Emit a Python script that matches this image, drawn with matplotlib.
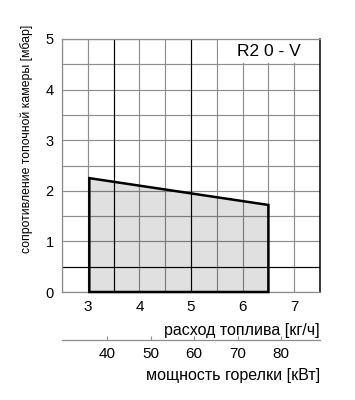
import matplotlib.pyplot as plt
from matplotlib.patches import Rectangle
from matplotlib.ticker import MultipleLocator

plt.rcParams['font.family'] = ['Liberation Sans', 'DejaVu Sans']

# working range of burner R20-V
fuel_flow = [3.03, 3.03, 6.5, 6.5]          # kg/h
chamber_pressure = [0.0, 2.25, 1.72, 0.0]   # mbar

fuel_ticks = [3, 4, 5, 6, 7]
pressure_ticks = [0, 1, 2, 3, 4, 5]
power_ticks = [40, 50, 60, 70, 80]
KW_PER_KG = 11.86

GRID = '#8e8e8e'

fig = plt.figure(figsize=(3.55, 4.0), dpi=100)
ax = fig.add_axes([0.1746, 0.27, 0.7268, 0.6325])

ax.set_xlim(2.5, 7.5)
ax.set_ylim(0, 5)
ax.set_xticks(fuel_ticks)
ax.set_yticks(pressure_ticks)
ax.xaxis.set_minor_locator(MultipleLocator(0.5))
ax.yaxis.set_minor_locator(MultipleLocator(0.5))
ax.set_axisbelow(True)
ax.grid(which='both', color=GRID, linewidth=0.85)
ax.tick_params(which='both', length=0, colors='black')
ax.tick_params(axis='x', pad=6, labelsize=11)
ax.tick_params(axis='y', pad=6, labelsize=10.5)

# darker reference lines
for xv in [3.5, 5.0]:
    ax.axvline(xv, color='black', linewidth=0.8, zorder=0.6)
ax.axhline(0.5, color='black', linewidth=0.8, zorder=0.6)

for side in ['top', 'left', 'bottom']:
    ax.spines[side].set_color(GRID)
    ax.spines[side].set_linewidth(0.9)
ax.spines['right'].set_color('black')
ax.spines['right'].set_linewidth(1.1)

# working field
ax.fill(fuel_flow, chamber_pressure, facecolor='black', alpha=0.12,
        edgecolor='none', zorder=1)
ax.fill(fuel_flow, chamber_pressure, facecolor='none', edgecolor='black',
        linewidth=1.8, zorder=3, clip_on=False)

# model label box
ax.add_patch(Rectangle((5.52, 4.52), 1.98, 0.48, facecolor='white',
                       edgecolor='none', zorder=0.8))
ax.text(6.5, 4.75, 'R2 0 - V', ha='center', va='center', fontsize=12.5,
        zorder=2)

ax.set_xlabel('расход топлива [кг/ч]', loc='right', fontsize=11.5,
              labelpad=6)

sec = ax.secondary_xaxis(-0.19, functions=(lambda f: f * KW_PER_KG,
                                           lambda p: p / KW_PER_KG))
sec.set_xticks(power_ticks)
sec.spines['bottom'].set_color(GRID)
sec.spines['bottom'].set_linewidth(0.9)
sec.tick_params(direction='in', length=3, color=GRID, labelsize=11, pad=5)
sec.set_xlabel('мощность горелки [кВт]', loc='right', fontsize=11.5,
               labelpad=5)

fig.text(27 / 355, 0.9375, 'сопротивление топочной камеры [мбар]',
         rotation=90, ha='center', va='top', fontsize=8.8)

fig.savefig('out.png', dpi=100)
